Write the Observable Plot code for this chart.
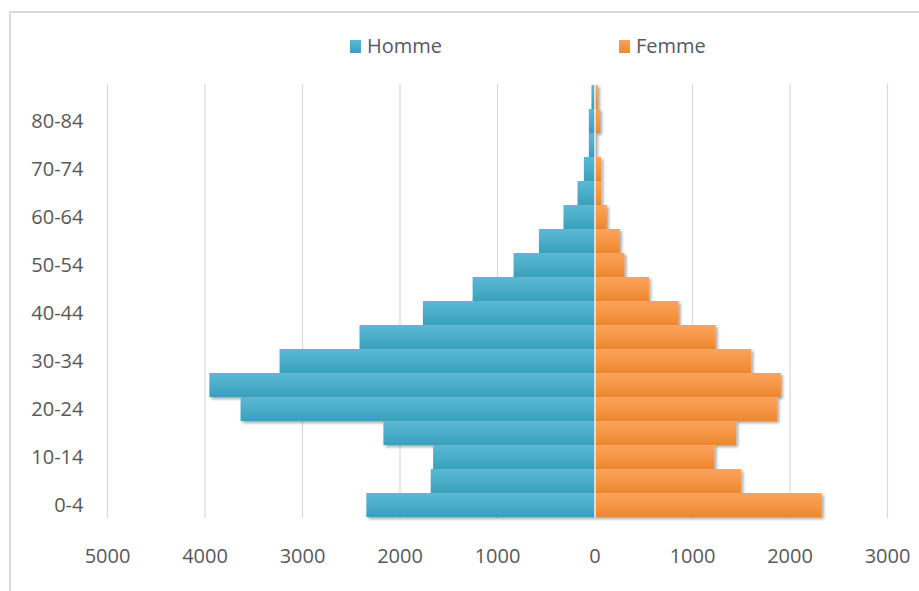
<!DOCTYPE html>
<html>
<head>
<meta charset="utf-8">
<script src="https://cdn.jsdelivr.net/npm/d3@7"></script>
<script src="https://cdn.jsdelivr.net/npm/@observablehq/plot@0.6"></script>
<style>
  html, body { margin: 0; padding: 0; background: #fff; }
  #wrap { position: relative; width: 919px; height: 591px; overflow: hidden; font-family: "Open Sans", sans-serif; }
  #frame { position: absolute; left: 9px; top: 11px; width: 1000px; height: 700px; border-left: 2px solid #d9d9d9; border-top: 2px solid #d9d9d9; box-sizing: border-box; }
  #chart { position: absolute; left: 0; top: 0; }
  .leg { position: absolute; top: 33px; font-size: 20px; color: #595959; line-height: 26px; display: flex; align-items: center; }
  .sw { display: inline-block; width: 11px; height: 13px; margin-right: 6px; }
</style>
</head>
<body>
<div id="wrap">
  <div id="frame"></div>
  <div id="chart"></div>
  <div class="leg" style="left:350px"><span class="sw" style="background:linear-gradient(#5ab7d0,#3aa0bd)"></span>Homme</div>
  <div class="leg" style="left:619px"><span class="sw" style="background:linear-gradient(#f9a05a,#ec8a33)"></span>Femme</div>
</div>
<script>
const ages = ["0-4","5-9","10-14","15-19","20-24","25-29","30-34","35-39","40-44","45-49","50-54","55-59","60-64","65-69","70-74","75-79","80-84","85+"];
const homme = [2340, 1680, 1655, 2165, 3630, 3950, 3230, 2410, 1760, 1250, 830, 570, 318, 174, 109, 58, 58, 31];
const femme = [2330, 1505, 1230, 1452, 1874, 1911, 1608, 1242, 863, 560, 307, 259, 126, 68, 68, 14, 55, 34];
const ageTickLabels = ["0-4","10-14","20-24","30-34","40-44","50-54","60-64","70-74","80-84"];
const xTicks = [-5000, -4000, -3000, -2000, -1000, 0, 1000, 2000, 3000];

const hommeData = ages.map((a, i) => ({age: a, value: homme[i]}));
const femmeData = ages.map((a, i) => ({age: a, value: femme[i]}));

const chart = Plot.plot({
  width: 919,
  height: 591,
  marginTop: 84,
  marginBottom: 73,
  marginLeft: 107,
  marginRight: 32,
  style: {fontFamily: "'Open Sans', sans-serif", fontSize: "20px", color: "#595959", background: "transparent", overflow: "visible"},
  x: {domain: [-5000, 3000], label: null},
  y: {domain: ages.slice().reverse(), padding: 0, label: null},
  marks: [
    Plot.gridX(xTicks, {stroke: "#d9d9d9", strokeOpacity: 1, strokeWidth: 1.2}),
    Plot.barX(hommeData, {x1: 0, x2: d => -d.value, y: "age", fill: "url(#gradH)", inset: 0}),
    Plot.barX(femmeData, {x1: 0, x2: "value", y: "age", fill: "url(#gradF)", inset: 0}),
    Plot.ruleX([0], {stroke: "#e4f1f5", strokeWidth: 1.5}),
    Plot.axisX({ticks: xTicks, tickSize: 0, tickPadding: 30, tickFormat: d => String(Math.abs(d)), label: null, fontSize: 20}),
    Plot.axisY({ticks: ageTickLabels, tickSize: 0, tickPadding: 24, label: null, fontSize: 20})
  ]
});

const svg = d3.select(chart);
const defs = svg.insert("defs", ":first-child");
function grad(id, top, mid, bot) {
  const g = defs.append("linearGradient").attr("id", id).attr("x1", 0).attr("y1", 0).attr("x2", 0).attr("y2", 1);
  g.append("stop").attr("offset", "0%").attr("stop-color", top);
  g.append("stop").attr("offset", "50%").attr("stop-color", mid);
  g.append("stop").attr("offset", "100%").attr("stop-color", bot);
}
grad("gradH", "#5cb8d1", "#4aafca", "#3a9fbb");
grad("gradF", "#fba35e", "#f79646", "#ea882f");
defs.append("filter").attr("id", "shadow").attr("x", "-5%").attr("y", "-20%").attr("width", "115%").attr("height", "160%")
  .append("feDropShadow").attr("dx", 2).attr("dy", 2).attr("stdDeviation", 1.6).attr("flood-color", "#000").attr("flood-opacity", 0.35);
svg.selectAll("g[aria-label='bar']").attr("filter", "url(#shadow)");

document.getElementById("chart").appendChild(chart);
</script>
</body>
</html>
